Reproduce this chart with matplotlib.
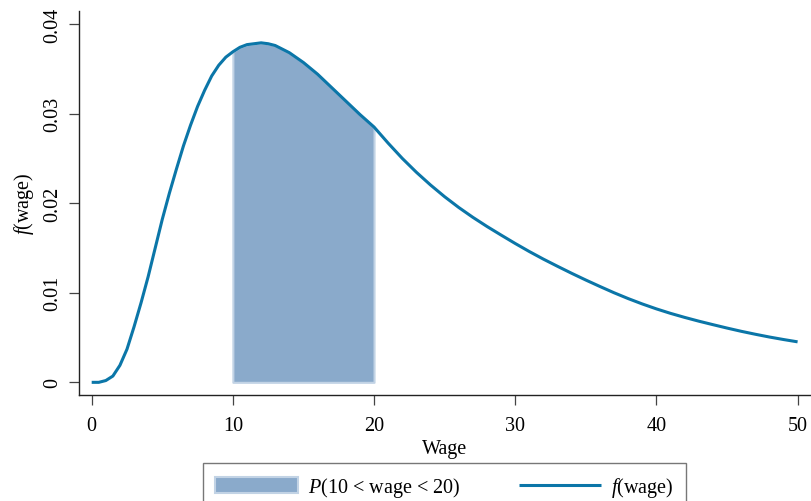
import matplotlib
matplotlib.use("Agg")
import matplotlib.pyplot as plt
import numpy as np

# Values
wage = [0, 0.5, 1, 1.5, 2, 2.5, 3, 3.5, 4, 4.5, 5, 5.5, 6, 6.5, 7, 7.5, 8, 8.5, 9, 9.5,
        10, 10.5, 11, 11.5, 12, 12.5, 13, 13.5, 14, 15, 16, 17, 18, 19, 20,
        21, 22, 23, 24, 25, 26, 27, 28, 29, 30, 31, 32, 33, 34, 35, 36, 37, 38, 39,
        40, 41, 42, 43, 44, 45, 46, 47, 48, 49, 50]
density = [0.0000, 0.0000, 0.0002, 0.0007, 0.0019, 0.0037, 0.0062, 0.0089, 0.0118, 0.0150,
           0.0182, 0.0211, 0.0238, 0.0264, 0.0287, 0.0308, 0.0326, 0.0342, 0.0354, 0.0363,
           0.0369, 0.0374, 0.0377, 0.0378, 0.0379, 0.0378, 0.0376, 0.0372, 0.0368, 0.0357,
           0.0344, 0.0329, 0.0314, 0.0299, 0.0285,
           0.02670, 0.02500, 0.02345, 0.02203, 0.02072, 0.01952, 0.01842, 0.01740, 0.01644,
           0.01550, 0.01460, 0.01375, 0.01295, 0.01217, 0.01142, 0.01070, 0.01000, 0.00935,
           0.00875, 0.00820, 0.00770, 0.00725, 0.00683, 0.00644, 0.00606, 0.00570, 0.00537,
           0.00506, 0.00478, 0.00452]
shade_lo, shade_hi = 10, 20
xticks = [0, 10, 20, 30, 40, 50]
yticks = [0, 0.01, 0.02, 0.03, 0.04]
yticklabels = ["0", "0.01", "0.02", "0.03", "0.04"]

plt.rcParams['font.family'] = ['Liberation Serif', 'DejaVu Serif']
plt.rcParams['mathtext.fontset'] = 'custom'
plt.rcParams['mathtext.rm'] = 'Liberation Serif'
plt.rcParams['mathtext.it'] = 'Liberation Serif:italic'

FS = 14.5
line_color = '#0b76a8'
fill_color = '#8aaacb'
fill_edge = '#c2d3e5'

fig = plt.figure(figsize=(8.12, 5.02), dpi=100)
ax = fig.add_axes([78.7/812, 1 - 395.7/502, (811 - 78.7)/812, (395.7 - 12.3)/502])

x = np.array(wage, dtype=float)
y = np.array(density)
mask = (x >= shade_lo) & (x <= shade_hi)
ax.fill_between(x[mask], 0, y[mask], facecolor=fill_color, edgecolor=fill_edge,
                linewidth=1.5, label=r'$\mathit{P}$(10 < wage < 20)', zorder=2)
ax.plot(x, y, color=line_color, linewidth=2.2, label=r'$\mathit{f}$(wage)', zorder=3,
        solid_capstyle='butt', solid_joinstyle='round')

ax.set_xlim(-0.92, 50.95)
ax.set_ylim(-0.00138, 0.04142)
ax.set_xticks(xticks)
ax.set_xticklabels([str(t) for t in xticks], fontsize=FS)
ax.set_yticks(yticks)
ax.set_yticklabels(yticklabels, fontsize=FS, rotation=90, va='center')

for s in ['top', 'right']:
    ax.spines[s].set_visible(False)
for s in ['left', 'bottom']:
    ax.spines[s].set_linewidth(1.0)
    ax.spines[s].set_color('#222222')

ax.tick_params(axis='both', direction='out', length=7, width=0.9, color='#444444')
ax.tick_params(axis='x', pad=8)
ax.tick_params(axis='y', pad=5)

ax.set_xlabel('Wage', fontsize=FS, labelpad=3)
ax.set_ylabel(r'$\mathit{f}$(wage)', fontsize=FS, labelpad=5)

leg = ax.legend(loc='upper center', bbox_to_anchor=(444.5/812, 1 - 464/502),
                bbox_transform=fig.transFigure, ncol=2, fontsize=FS, frameon=True,
                fancybox=False, edgecolor='#555555', handlelength=4.1, handleheight=0.8,
                handletextpad=0.5, columnspacing=2.9, borderpad=0.6, borderaxespad=0)
leg.get_frame().set_linewidth(1.0)

fig.savefig('out.png', dpi=100)
